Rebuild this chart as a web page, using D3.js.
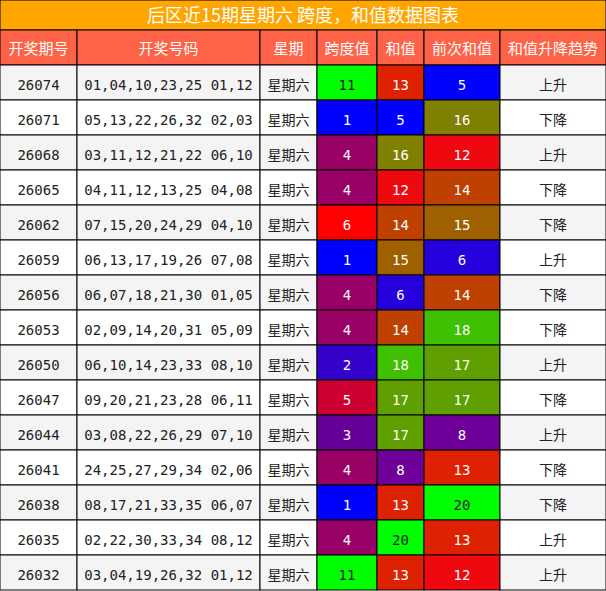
<!DOCTYPE html>
<html><head><meta charset="utf-8">
<script src="https://cdn.jsdelivr.net/npm/d3@7"></script>
<style>body{margin:0;background:#fff}</style>
</head><body><svg id="c" width="606" height="591"></svg>
<script>
const TITLE = "后区近15期星期六 跨度，和值数据图表";
const HEADERS = ["开奖期号", "开奖号码", "星期", "跨度值", "和值", "前次和值", "和值升降趋势"];
const ISSUES = ["26074","26071","26068","26065","26062","26059","26056","26053","26050","26047","26044","26041","26038","26035","26032"];
const NUMBERS = ["01,04,10,23,25 01,12","05,13,22,26,32 02,03","03,11,12,21,22 06,10","04,11,12,13,25 04,08","07,15,20,24,29 04,10",
  "06,13,17,19,26 07,08","06,07,18,21,30 01,05","02,09,14,20,31 05,09","06,10,14,23,33 08,10","09,20,21,23,28 06,11",
  "03,08,22,26,29 07,10","24,25,27,29,34 02,06","08,17,21,33,35 06,07","02,22,30,33,34 08,12","03,04,19,26,32 01,12"];
const SPANS = [11,1,4,4,6,1,4,4,2,5,3,4,1,4,11];
const SUMS = [13,5,16,12,14,15,6,14,18,17,17,8,13,20,13];
const PREV = [5,16,12,14,15,6,14,18,17,17,8,13,20,13,12];
const TREND = ["上升","下降","上升","下降","下降","上升","下降","下降","上升","下降","上升","下降","下降","上升","上升"];

const svg = d3.select("#c");
const colX = [0,77,260,317,377,424,500,606];
const x = d3.scaleOrdinal().domain(d3.range(7)).range(colX);
const y = d3.scaleBand().domain(d3.range(15)).range([65,590]);
const spanColor = d3.scaleLinear().domain([1,6,11]).range(["#0000ff","#ff0000","#00ff00"]);
const sumColor = d3.scaleLinear().domain([5,11.5,12.5,20]).range(["#0000ff","#ee0022","#ee1100","#00ff00"]);
const mono = "'DejaVu Sans Mono', monospace", sans = "'Noto Sans CJK SC', sans-serif";

svg.append("rect").attr("x",0).attr("y",0).attr("width",606).attr("height",30).attr("fill","#ffa500").attr("stroke","#000");
svg.append("text").attr("x",303).attr("y",22).attr("text-anchor","middle").attr("fill","#fff")
  .attr("font-family",sans).attr("font-size",18).text(TITLE);

HEADERS.forEach((h,i) => {
  svg.append("rect").attr("x",colX[i]).attr("y",30).attr("width",colX[i+1]-colX[i]).attr("height",35)
    .attr("fill","#ff6347").attr("stroke","#000");
  svg.append("text").attr("x",(colX[i]+colX[i+1])/2).attr("y",54).attr("text-anchor","middle")
    .attr("fill","#fff").attr("font-family",sans).attr("font-size",15).text(h);
});

const rows = d3.range(15).map(i => [
  {t:ISSUES[i], f:mono}, {t:NUMBERS[i], f:mono}, {t:"星期六", f:sans},
  {t:SPANS[i], f:mono, c:spanColor(SPANS[i]), dark:SPANS[i]===11},
  {t:SUMS[i], f:mono, c:sumColor(SUMS[i]), dark:SUMS[i]===20},
  {t:PREV[i], f:mono, c:sumColor(PREV[i]), dark:PREV[i]===20},
  {t:TREND[i], f:sans}
]);

const g = svg.selectAll("g.row").data(rows).join("g").attr("class","row")
  .attr("transform",(d,i) => `translate(0,${y(i)})`);
g.each(function(r,i){
  const sel = d3.select(this);
  r.forEach((cell,j) => {
    sel.append("rect").attr("x",x(j)).attr("width",colX[j+1]-colX[j]).attr("height",y.bandwidth())
      .attr("fill",cell.c || (i%2 ? "#ffffff" : "#f4f4f4")).attr("stroke","#000");
    sel.append("text").attr("x",(colX[j]+colX[j+1])/2).attr("y",y.bandwidth()/2+7).attr("text-anchor","middle")
      .attr("font-family",cell.f).attr("font-size",14)
      .attr("fill",cell.c && !cell.dark ? "#fff" : "#222").text(cell.t);
  });
});
</script></body></html>
